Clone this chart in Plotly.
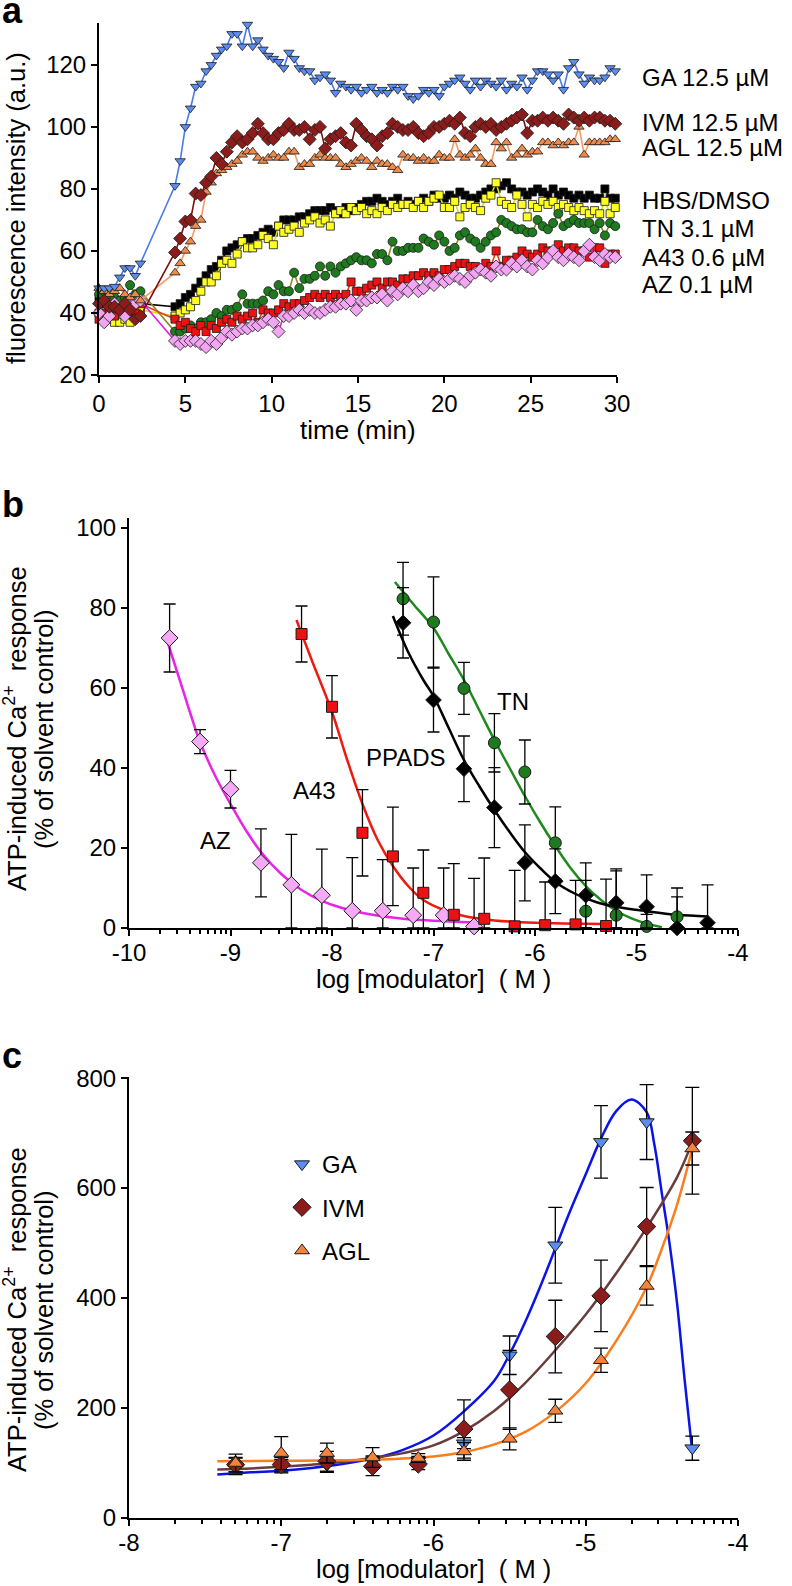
import numpy as np
import plotly.graph_objects as go

W, H = 792, 1586
FONT = "Liberation Sans, Arial, Helvetica, sans-serif"

# ---------------- panel a : time courses ----------------
t_base = [0.0, 0.3, 0.6, 0.9, 1.2, 1.5, 1.8, 2.1, 2.4]
t_post = [4.4, 4.7, 5.0, 5.3, 5.6, 5.9, 6.2, 6.5, 6.8, 7.1,
          7.4, 7.7, 8.0, 8.3, 8.6, 8.9, 9.2, 9.5, 9.8, 10.1,
          10.4, 10.7, 11.0, 11.3, 11.6, 11.9, 12.2, 12.5, 12.8, 13.1,
          13.4, 13.7, 14.0, 14.3, 14.6, 14.9, 15.2, 15.5, 15.8, 16.1,
          16.4, 16.7, 17.0, 17.3, 17.6, 17.9, 18.2, 18.5, 18.8, 19.1,
          19.4, 19.7, 20.0, 20.3, 20.6, 20.9, 21.2, 21.5, 21.8, 22.1,
          22.4, 22.7, 23.0, 23.3, 23.6, 23.9, 24.2, 24.5, 24.8, 25.1,
          25.4, 25.7, 26.0, 26.3, 26.6, 26.9, 27.2, 27.5, 27.8, 28.1,
          28.4, 28.7, 29.0, 29.3, 29.6, 29.9]

ga_base = [48, 48, 48, 48.5, 51.5, 54.5, 54.5, 52, 56]
ga_post = [81, 89, 100, 106, 113, 114, 118, 120, 123, 125,
           126, 130, 130, 126, 133, 126, 128, 125, 123, 122,
           121, 119, 124, 122, 119, 118, 118, 115, 116, 117,
           115, 111, 114, 113, 112, 113, 111, 112, 113, 111,
           112, 111, 113, 112, 113, 110, 109, 110, 112, 111,
           112, 110, 113, 114, 115, 116, 114, 112, 115, 113,
           115, 114, 113, 115, 112, 114, 113, 116, 112, 115,
           118, 118, 117, 115, 117, 112, 119, 121, 117, 114,
           116, 115, 115, 116, 119, 118]

ivm_base = [43, 44, 42, 42, 41, 43, 41, 38, 39]
ivm_post = [59.5, 64, 69.5, 70, 78.5, 78, 82, 84, 90, 88,
            92, 95, 97, 95, 96, 98, 101, 98, 96, 96,
            98, 99, 101, 99, 99, 100, 96, 99, 100, 93,
            96, 97, 98, 95, 94, 101, 99, 97, 96, 94,
            97, 98, 101, 100, 99, 99, 100, 98, 97, 98,
            100, 100, 101, 102, 101, 103, 98, 97, 100, 101,
            100, 101, 99, 100, 101, 102, 103, 104, 98, 102,
            102, 103, 102, 103, 102, 101, 104, 103, 102, 103,
            102, 103, 103, 102, 102, 101]

agl_base = [48, 47, 46, 47, 48, 46, 45, 46, 44]
agl_post = [53, 56, 60, 63, 68, 70, 79, 82, 85, 86,
            87, 88, 89, 91, 92, 92, 90, 89, 90, 91,
            90, 90, 92, 92, 87, 88, 88, 90, 91, 90,
            90, 90, 88, 87, 88, 89, 90, 89, 87, 89,
            88, 88, 87, 86, 91, 90, 90, 89, 90, 89,
            89, 91, 90, 90, 96, 91, 90, 91, 93, 90,
            88, 88, 95, 93, 95, 90, 91, 93, 91, 92,
            92, 95, 95, 94, 95, 94, 95, 95, 100, 91,
            95, 95, 95, 95, 96, 96]

hbs_base = [44, 43, 42, 41, 40, 41, 42, 41, 43]
hbs_post = [42, 43, 45, 46, 48, 50, 52, 54, 55, 57,
            60, 61, 62, 63, 64, 64, 65, 66, 67, 66,
            68, 70, 70, 70, 71, 71, 72, 73, 73, 73,
            74, 73, 72, 74, 73, 74, 75, 76, 76, 77,
            76, 75, 76, 77, 75, 76, 75, 76, 77, 76,
            78, 77, 77, 78, 77, 79, 78, 77, 77, 78,
            79, 80, 80, 81, 82, 80, 79, 79, 78, 79,
            80, 79, 78, 80, 78, 79, 78, 77, 78, 77,
            78, 77, 77, 80, 77, 77]

dmso_base = [40, 39, 38, 37, 37, 38, 37, 39, 41]
dmso_post = [39, 40, 41, 42, 44, 47, 50, 50, 52, 56,
             57, 56, 59, 63, 61, 61, 62, 65, 64, 62,
             68, 66, 67, 68, 66, 69, 70, 71, 69, 70,
             68, 72, 73, 72, 74, 73, 74, 72, 73, 72,
             74, 73, 75, 74, 75, 75, 74, 76, 74, 76,
             77, 78, 74, 74, 76, 71, 74, 75, 74, 73,
             77, 78, 82, 76, 75, 74, 78, 75, 71, 75,
             74, 76, 75, 76, 74, 75, 74, 73, 74, 73,
             72, 73, 72, 76, 72, 74]

tn_base = [46, 47, 46, 45, 44, 45, 49, 46, 47]
tn_post = [34, 34, 35, 36, 35, 37, 37, 38, 40, 39,
           41, 41, 42, 46, 43, 43, 43, 44, 47, 46,
           49, 47, 47, 53, 48, 51, 51, 52, 55, 52,
           55, 53, 55, 56, 57, 58, 57, 57, 56, 59,
           59, 57, 63, 60, 60, 61, 61, 61, 64, 63,
           62, 65, 63, 60, 61, 65, 66, 64, 63, 61,
           63, 65, 66, 70, 69, 68, 67, 67, 66, 66,
           70, 68, 67, 69, 72, 68, 69, 70, 69, 69,
           69, 67, 69, 65, 69, 68]

a43_base = [38, 40, 41, 39, 42, 40, 41, 40, 43]
a43_post = [38, 36, 37, 35, 34, 36, 34, 36, 35, 37,
            38, 37, 39, 38, 39, 40, 37, 41, 40, 40,
            41, 43, 42, 43, 43, 44, 45, 46, 45, 46,
            45, 46, 45, 46, 50, 47, 47, 48, 49, 50,
            48, 50, 50, 49, 51, 51, 52, 52, 53, 52,
            53, 52, 54, 54, 55, 56, 56, 55, 55, 54,
            56, 55, 60, 55, 57, 57, 58, 60, 59, 58,
            59, 61, 60, 60, 62, 60, 61, 61, 60, 60,
            58, 61, 61, 56, 59, 59]

az_base = [40, 37, 39, 43, 41, 39, 42, 43, 44]
az_post = [31, 30, 31, 31, 31, 30, 29, 31, 30, 32,
           34, 33, 34, 35, 35, 36, 36, 37, 38, 37,
           34, 39, 39, 40, 41, 40, 41, 40, 40, 41,
           42, 42, 43, 43, 44, 41, 44, 44, 45, 45,
           46, 44, 47, 46, 48, 47, 49, 47, 48, 50,
           49, 51, 50, 51, 52, 51, 50, 52, 53, 54,
           53, 52, 55, 54, 54, 56, 55, 57, 55, 54,
           57, 56, 58, 60, 58, 57, 59, 58, 57, 60,
           62, 58, 57, 59, 58, 58]

a_labels = ["GA 12.5 µM", "IVM 12.5 µM", "AGL 12.5 µM", "HBS/DMSO",
            "TN 3.1 µM", "A43 0.6 µM", "AZ 0.1 µM"]

# ---------------- panel b : inhibitors ----------------
az_x = [-9.6, -9.3, -9.0, -8.7, -8.4, -8.1, -7.8, -7.5, -7.2, -6.9, -6.6]
az_y = [72.5, 46.6, 34.7, 16.3, 10.8, 8.2, 4.3, 4.3, 3.2, 3.2, 0.4]
az_e = [8.5, 3.0, 4.7, 8.5, 12.6, 11.5, 13.3, 12.8, 11.8, 11.8, 12.0]

a43_x = [-8.3, -8.0, -7.7, -7.4, -7.1, -6.8, -6.5, -6.2, -5.9, -5.6, -5.3]
a43_y = [73.5, 55.3, 23.8, 17.9, 8.8, 3.3, 2.3, 0.4, 0.7, 0.9, 0.5]
a43_e = [7.0, 7.8, 10.8, 12.3, 10.7, 12.8, 15.2, 14.0, 10.8, 11.0, 11.7]

tn_x = [-7.3, -7.0, -6.7, -6.4, -6.1, -5.8, -5.5, -5.2, -4.9, -4.6]
tn_y = [82.3, 76.5, 59.9, 46.3, 39.0, 21.3, 4.2, 3.2, 0.4, 2.8]
tn_e = [9.1, 11.3, 6.5, 7.3, 8.0, 9.0, 7.7, 11.6, 3.0, 5.0]

pp_x = [-7.3, -7.0, -6.7, -6.4, -6.1, -5.8, -5.5, -5.2, -4.9, -4.6, -4.3]
pp_y = [76.3, 57.0, 39.8, 30.1, 16.3, 11.7, 8.2, 6.3, 5.3, 0.0, 1.3]
pp_e = [8.8, 8.0, 8.2, 10.0, 9.5, 8.1, 8.1, 8.0, 8.0, 10.0, 9.5]

# fitted curves
az_fx = [-9.62, -9.5, -9.4, -9.3, -9.15, -9.0, -8.85, -8.7, -8.5, -8.3, -8.1, -7.9, -7.6, -7.3, -7.0, -6.6]
az_fy = [71.5, 62, 54, 46.5, 38, 31, 24.5, 19, 13.5, 9.5, 6.8, 5, 3.3, 2.3, 1.8, 1.4]
a43_fx = [-8.35, -8.2, -8.0, -7.85, -7.7, -7.55, -7.4, -7.25, -7.1, -6.9, -6.7, -6.4, -6.0, -5.3]
a43_fy = [77, 67, 54, 42, 31, 22, 15.5, 10.5, 7, 4.5, 3, 1.9, 1.3, 1.0]
tn_fx = [-7.38, -7.2, -7.0, -6.85, -6.7, -6.55, -6.4, -6.25, -6.1, -5.95, -5.8, -5.65, -5.5, -5.35, -5.2, -5.05, -4.9, -4.75]
tn_fy = [86.5, 81, 75, 68.5, 62, 54.5, 47, 40, 33, 26.5, 20.5, 15, 10.5, 7, 4.3, 2.4, 1.1, 0.2]
pp_fx = [-7.4, -7.25, -7.1, -7.0, -6.85, -6.7, -6.55, -6.4, -6.25, -6.1, -5.95, -5.8, -5.6, -5.4, -5.2, -4.9, -4.6, -4.3]
pp_fy = [78, 69, 62, 58, 50, 42, 35.5, 29.5, 24, 19, 15, 11.5, 8.5, 6.5, 5.3, 4.2, 3.3, 2.9]

b_xticks = [-10, -9, -8, -7, -6, -5, -4]
b_xtext = ["-10", "-9", "-8", "-7", "-6", "-5", "-4"]

# ---------------- panel c : potentiators ----------------
c_x = [-7.3, -7.0, -6.7, -6.4, -6.1, -5.8, -5.5, -5.2, -4.9, -4.6, -4.3]
gac_y = [94, 94, 97, 103, 104, 136, 296, 496, 684, 720, 127]
gac_e = [15, 12, 14, 10, 8, 10, 35, 69, 66, 68, 22]
ivmc_y = [97, 97, 103, 94, 98, 162, 233, 330, 404, 530, 686]
ivmc_e = [13, 13, 18, 17, 10, 53, 72, 66, 65, 71, 97]
aglc_y = [100, 118, 118, 110, 109, 121, 144, 195, 287, 422, 672]
aglc_e = [16, 30, 18, 18, 8, 16, 20, 21, 22, 35, 30]

gac_fx = [-7.42, -7.2, -7.0, -6.8, -6.6, -6.4, -6.2, -6.0, -5.8, -5.6, -5.5, -5.4, -5.3, -5.2, -5.1, -5.0,
          -4.9, -4.8, -4.7, -4.6, -4.55, -4.5, -4.45, -4.4, -4.35, -4.3]
gac_fy = [79, 83, 86, 91, 98, 108, 124, 150, 194, 250, 298, 355, 420, 490, 560, 625,
          690, 740, 761, 738, 680, 590, 500, 390, 250, 120]
ivmc_fx = [-7.42, -7.2, -7.0, -6.8, -6.6, -6.4, -6.2, -6.0, -5.8, -5.6, -5.4, -5.2, -5.0, -4.8, -4.6, -4.4, -4.3]
ivmc_fy = [88, 90, 93, 97, 102, 109, 118, 132, 158, 195, 245, 305, 370, 445, 528, 620, 684]
aglc_fx = [-7.42, -7.0, -6.6, -6.3, -6.0, -5.8, -5.6, -5.4, -5.2, -5.0, -4.8, -4.6, -4.5, -4.4, -4.3]
aglc_fy = [103, 104, 105, 107, 112, 120, 134, 156, 193, 245, 322, 420, 490, 570, 672]

c_xticks = [-8, -7, -6, -5, -4]
c_xtext = ["-8", "-7", "-6", "-5", "-4"]

# ============================================================
fig = go.Figure()
OUT = "#1a1a1a"

a_series = [
    (hbs_base, hbs_post, "#000000", "#000000", "square", 8),
    (dmso_base, dmso_post, "#FFFF22", "#D8D820", "square", 8),
    (tn_base, tn_post, "#1F7A1F", "#8C8C22", "circle", 9),
    (a43_base, a43_post, "#EE1111", "#E8401A", "square", 8),
    (az_base, az_post, "#F2A6F2", "#E020E0", "diamond", 10),
    (agl_base, agl_post, "#F08A4B", "#F49A68", "triangle-up", 9),
    (ivm_base, ivm_post, "#8B1C1C", "#7A1010", "diamond", 10),
    (ga_base, ga_post, "#5B8DEF", "#4A7BE6", "triangle-down", 9),
]
for base, post, fc, lc, sym, sz in a_series:
    fig.add_trace(go.Scatter(
        x=t_base + t_post, y=base + post, mode="lines+markers",
        line=dict(color=lc, width=1.6),
        marker=dict(symbol=sym, size=sz, color=fc, line=dict(color=OUT, width=0.8)),
        xaxis="x", yaxis="y", cliponaxis=False, showlegend=False))


def err(vals, errs, w=6):
    return dict(type="data", symmetric=False, array=errs,
                arrayminus=[min(e, v) for v, e in zip(vals, errs)],
                color="black", thickness=1.3, width=w)


# panel b curves
for fx, fy, col in [(az_fx, az_fy, "#E824E8"), (a43_fx, a43_fy, "#EE1A10"),
                    (tn_fx, tn_fy, "#1E8A1E"), (pp_fx, pp_fy, "#000000")]:
    fig.add_trace(go.Scatter(x=fx, y=fy, mode="lines", line=dict(color=col, width=2.5, shape="spline"),
                             xaxis="x2", yaxis="y2", showlegend=False, hoverinfo="skip"))
# panel b points
for xs, ys, es, fc, sym, sz in [(az_x, az_y, az_e, "#F4AAF4", "diamond", 13),
                                (a43_x, a43_y, a43_e, "#EE1111", "square", 11),
                                (tn_x, tn_y, tn_e, "#1F7A1F", "circle", 12),
                                (pp_x, pp_y, pp_e, "#000000", "diamond", 12)]:
    fig.add_trace(go.Scatter(x=xs, y=ys, mode="markers", error_y=err(ys, es),
                             marker=dict(symbol=sym, size=sz, color=fc, line=dict(color=OUT, width=1)),
                             xaxis="x2", yaxis="y2", cliponaxis=False, showlegend=False))

# panel c curves
for fx, fy, col in [(gac_fx, gac_fy, "#0A14E6"), (ivmc_fx, ivmc_fy, "#6B3C3C"), (aglc_fx, aglc_fy, "#FA7D1E")]:
    fig.add_trace(go.Scatter(x=fx, y=fy, mode="lines", line=dict(color=col, width=2.5, shape="spline"),
                             xaxis="x3", yaxis="y3", showlegend=False, hoverinfo="skip"))
# panel c points
for name, ys, es, fc, sym, sz in [("GA", gac_y, gac_e, "#5B8DEF", "triangle-down", 13),
                                  ("IVM", ivmc_y, ivmc_e, "#8B1C1C", "diamond", 14),
                                  ("AGL", aglc_y, aglc_e, "#F4843C", "triangle-up", 13)]:
    fig.add_trace(go.Scatter(x=c_x, y=ys, mode="markers", name=name, error_y=err(ys, es, 7),
                             marker=dict(symbol=sym, size=sz, color=fc, line=dict(color=OUT, width=1)),
                             xaxis="x3", yaxis="y3", cliponaxis=False, showlegend=True,
                             legendgroup=name))

# ---------------- axes ----------------
ax = dict(showline=True, linecolor="black", linewidth=2, ticks="outside", ticklen=6, tickwidth=2,
          tickcolor="black", showgrid=False, zeroline=False, automargin=False,
          tickfont=dict(family=FONT, size=24, color="black"))

minor_b = [float(d + np.log10(k)) for d in range(-10, -4) for k in range(2, 10)]
minor_c = [float(d + np.log10(k)) for d in range(-8, -4) for k in range(2, 10)]
minor_style = dict(ticks="outside", ticklen=4, tickwidth=1.5, tickcolor="black", showgrid=False)

fig.update_layout(
    width=W, height=H, margin=dict(l=0, r=0, t=0, b=0, autoexpand=False),
    paper_bgcolor="white", plot_bgcolor="white",
    font=dict(family=FONT, size=24, color="black"),
    xaxis=dict(ax, domain=[99 / W, 617 / W], range=[0, 30], anchor="y",
               tickvals=[0, 5, 10, 15, 20, 25, 30]),
    yaxis=dict(ax, domain=[1 - 375 / H, 1 - 23 / H], range=[20, 133.5], anchor="x",
               tickvals=[20, 40, 60, 80, 100, 120]),
    xaxis2=dict(ax, domain=[129 / W, 738 / W], range=[-10, -4], anchor="y2",
                tickvals=b_xticks, ticktext=b_xtext, ticklabelstandoff=-4,
                minor=dict(minor_style, tickvals=minor_b)),
    yaxis2=dict(ax, domain=[1 - 928 / H, 1 - 518 / H], range=[0, 102.5], anchor="x2",
                tickvals=[0, 20, 40, 60, 80, 100]),
    xaxis3=dict(ax, domain=[129 / W, 738 / W], range=[-8, -4], anchor="y3",
                tickvals=c_xticks, ticktext=c_xtext, ticklabelstandoff=-4,
                minor=dict(minor_style, tickvals=minor_c)),
    yaxis3=dict(ax, domain=[1 - 1518 / H, 1 - 1077 / H], range=[0, 802], anchor="x3",
                tickvals=[0, 200, 400, 600, 800]),
    legend=dict(x=282 / W, y=1 - 1142 / H, xanchor="left", yanchor="top",
                font=dict(family=FONT, size=24, color="black"), bgcolor="rgba(0,0,0,0)",
                traceorder="grouped", tracegroupgap=9),
)


def pa(text, xp, yp, size=24, bold=False, angle=0, xanchor="center", yanchor="middle"):
    if bold:
        text = "<b>" + text + "</b>"
    fig.add_annotation(text=text, x=xp / W, y=1 - yp / H, xref="paper", yref="paper",
                       showarrow=False, textangle=angle, xanchor=xanchor, yanchor=yanchor,
                       font=dict(family=FONT, size=size, color="black"))


# panel letters
pa("a", 0, 11, size=36, bold=True, xanchor="left")
pa("b", 0, 504, size=36, bold=True, xanchor="left")
pa("c", 0, 1055, size=36, bold=True, xanchor="left")

# panel a texts
pa("fluorescence intensity (a.u.)", 16, 208, size=25.5, angle=-90)
pa("time (min)", 358, 430, size=26)
for lab, yp in zip(a_labels, [77, 123, 147, 200, 229, 257, 285]):
    pa(lab, 640, yp, xanchor="left")

# panel b / c axis titles (two rotated lines each)
ylab1 = "ATP-induced Ca<sup>2+</sup>  response"
ylab2 = "(% of solvent control)"
for yc in (729, 1310):
    pa(ylab1, 15, yc, size=25.5, angle=-90)
    pa(ylab2, 44, yc, size=25.5, angle=-90)
pa("log [modulator]  ( M )", 433, 979, size=25.5)
pa("log [modulator]  ( M )", 433, 1569, size=25.5)

# panel b curve labels (data coordinates)
for lab, lx, ly in [("AZ", -9.15, 22), ("A43", -8.17, 34.5), ("PPADS", -7.27, 42.7), ("TN", -6.22, 56.7)]:
    fig.add_annotation(text=lab, x=lx, y=ly, xref="x2", yref="y2", showarrow=False,
                       font=dict(family=FONT, size=24, color="black"))

fig.write_html("out.html", config={"displayModeBar": False},
               post_script="document.body.style.margin='0px';")
